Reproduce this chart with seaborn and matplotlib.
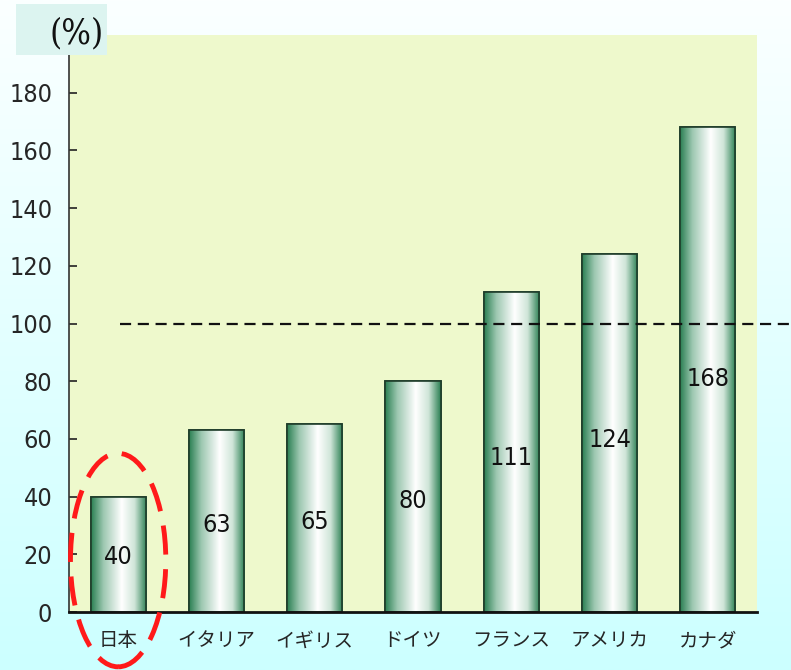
import numpy as np
import pandas as pd
import matplotlib
matplotlib.use("Agg")
import matplotlib.pyplot as plt
from matplotlib.colors import LinearSegmentedColormap
from matplotlib.patches import Ellipse, Rectangle
import seaborn as sns

countries = ["日本", "イタリア", "イギリス", "ドイツ", "フランス", "アメリカ", "カナダ"]
values = [40, 63, 65, 80, 111, 124, 168]
yticks = [0, 20, 40, 60, 80, 100, 120, 140, 160, 180]
ref_value = 100
unit_label = "(%)"

sns.set_theme(style="white")
plt.rcParams['font.family'] = ['DejaVu Sans', 'Noto Sans CJK JP']
plt.rcParams['font.stretch'] = 'condensed'

fig = plt.figure(figsize=(7.91, 6.70), dpi=100)

# figure background gradient
bg = fig.add_axes([0, 0, 1, 1], zorder=-10)
grad = np.linspace(0, 1, 256).reshape(-1, 1)
bg_cmap = LinearSegmentedColormap.from_list("bg", ["#fbffff", "#ccffff"])
bg.imshow(grad, aspect="auto", cmap=bg_cmap, extent=[0, 1, 0, 1], origin="upper")
bg.set_axis_off()

# (%) label box
fig.patches.append(Rectangle((16 / 791, 1 - 55 / 670), 91 / 791, 51 / 670,
                             transform=fig.transFigure, facecolor="#dcf4f0",
                             edgecolor="none", zorder=1))
fig.text(104 / 791, 1 - 33 / 670, unit_label, ha="right", va="center",
         fontsize=25, family=['DejaVu Serif'], stretch='condensed',
         color="#111111", zorder=2)

ax = fig.add_axes([69 / 791, 1 - 612 / 670, 688 / 791, 577 / 670])
ax.set_facecolor("#eef9cc")

df = pd.DataFrame({"country": countries, "value": values})
sns.barplot(data=df, x="country", y="value", width=0.56, color="#ffffff",
            edgecolor="#1f3d2a", linewidth=1.2, ax=ax, zorder=3)

bar_cmap = LinearSegmentedColormap.from_list(
    "bar", [(0, "#2a7f52"), (0.22, "#9cc7b0"), (0.55, "#ffffff"), (0.78, "#cfe5d8"), (1, "#2a7f52")])
hgrad = np.linspace(0, 1, 256).reshape(1, -1)
for p in ax.patches:
    x0, y0 = p.get_x(), p.get_y()
    w, h = p.get_width(), p.get_height()
    im = ax.imshow(hgrad, aspect="auto", cmap=bar_cmap,
                   extent=[x0, x0 + w, y0, y0 + h], zorder=3.5, origin="lower")
    im.set_clip_path(p)
    frame = Rectangle((x0, y0), w, h, fill=False, edgecolor="#1f3d2a",
                      linewidth=1.2, zorder=4)
    ax.add_patch(frame)

for i, v in enumerate(values):
    ax.text(i, v * 0.48, str(v), ha="center", va="center", fontsize=18,
            color="#111111", zorder=5)

ax.set_xlim(-0.5, len(values) - 0.5)
ax.set_ylim(0, 200)
ax.set_yticks(yticks)
ax.set_yticklabels([str(t) for t in yticks], fontsize=18)
ax.set_xticks(range(len(countries)))
ax.set_xticklabels(countries, fontsize=14)
ax.set_xticks(np.arange(-0.5, len(values), 1.0), minor=True)
ax.tick_params(axis="x", which="major", length=0, pad=14)
ax.tick_params(axis="x", which="minor", direction="in", length=6, width=1.2, color="#222222")
ax.tick_params(axis="y", direction="in", length=6, width=1.2, color="#222222", pad=12, left=True)
ax.set_xlabel("")
ax.set_ylabel("")
for s in ["top", "right"]:
    ax.spines[s].set_visible(False)
ax.spines["left"].set_color("#333333")
ax.spines["left"].set_linewidth(1.2)
ax.spines["bottom"].set_color("#111111")
ax.spines["bottom"].set_linewidth(2)
ax.spines["left"].set_zorder(6)
ax.spines["bottom"].set_zorder(6)

# reference dashed line extending beyond the axes
ax.plot([0.02, 6.85], [ref_value, ref_value], color="#111111", linewidth=1.6,
        linestyle=(0, (5, 3)), clip_on=False, zorder=6)

# highlight ellipse around Japan
ell = Ellipse((0, 18), 0.97, 74, fill=False, edgecolor="#ff1a1a", linewidth=3.5,
              linestyle=(0, (6, 3)), clip_on=False, zorder=7)
ax.add_patch(ell)

fig.savefig("out.png", dpi=100)
